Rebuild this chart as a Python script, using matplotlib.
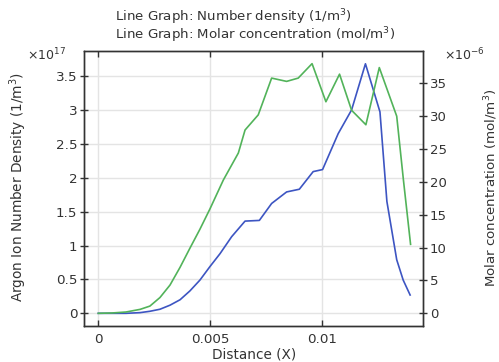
import numpy as np
import matplotlib
matplotlib.use("Agg")
import matplotlib.pyplot as plt

# blue line: argon ion number density (x1e17 1/m^3)
distance_density = [0, 0.00124, 0.00187, 0.00231, 0.00276, 0.00321, 0.00366, 0.00410, 0.00455,
                    0.00500, 0.00545, 0.00597, 0.00657, 0.00721, 0.00776, 0.00843, 0.00900,
                    0.00962, 0.01004, 0.01074, 0.01134, 0.01196, 0.01261, 0.01292, 0.01336,
                    0.01365, 0.01396]
number_density = [0, 0, 0.01, 0.03, 0.06, 0.12, 0.2, 0.33, 0.49, 0.69, 0.88, 1.13, 1.36, 1.37,
                  1.62, 1.79, 1.83, 2.09, 2.12, 2.65, 3.0, 3.68, 2.97, 1.65, 0.79, 0.49, 0.27]

# green line: molar concentration (x1e-6 mol/m^3)
distance_molar = [0, 0.00061, 0.00124, 0.00187, 0.00231, 0.00276, 0.00321, 0.00366, 0.00410,
                  0.00455, 0.00500, 0.00560, 0.00627, 0.00657, 0.00716, 0.00776, 0.00843,
                  0.00895, 0.00957, 0.01019, 0.01080, 0.01134, 0.01198, 0.01258, 0.01336,
                  0.01366, 0.01398]
molar_conc = [0, 0.05, 0.2, 0.6, 1.1, 2.4, 4.3, 7.0, 9.9, 12.8, 15.9, 20.3, 24.4, 27.9, 30.2,
              35.8, 35.3, 35.8, 38.0, 32.2, 36.4, 30.9, 28.7, 37.4, 30.0, 20.3, 10.5]

x_ticks = [0, 0.005, 0.01]
x_tick_labels = ["0", "0.005", "0.01"]
left_ticks = [0, 0.5, 1, 1.5, 2, 2.5, 3, 3.5]
left_tick_labels = ["0", "0.5", "1", "1.5", "2", "2.5", "3", "3.5"]
right_ticks = [0, 5, 10, 15, 20, 25, 30, 35]

txt = "#333333"
W, H = 499, 362
fig = plt.figure(figsize=(W / 100, H / 100), dpi=100)
ax = fig.add_axes([84 / W, 1 - 326 / H, 339.3 / W, 275.3 / H])
ax2 = ax.twinx()

ax.plot(distance_density, number_density, color="#3d55c2", lw=1.2)
ax2.plot(distance_molar, molar_conc, color="#52b35a", lw=1.2)

ax.set_xlim(-0.00064, 0.01455)
ax.set_ylim(-0.187, 3.873)
ax2.set_ylim(-1.93, 39.97)

ax.set_xticks(x_ticks)
ax.set_xticklabels(x_tick_labels)
ax.set_yticks(left_ticks)
ax.set_yticklabels(left_tick_labels)
ax2.set_yticks(right_ticks)

ax.grid(True, color="#e4e4e4", lw=1)
ax.set_axisbelow(True)
ax.tick_params(axis="x", direction="in", length=4.5, width=1, top=True, pad=5,
               labelsize=9.7, labelcolor=txt, color=txt)
ax.tick_params(axis="y", direction="inout", length=5.5, width=1, pad=2,
               labelsize=9.7, labelcolor=txt, color=txt)
ax2.tick_params(axis="y", direction="inout", length=5.5, width=1, pad=2,
                labelsize=9.5, labelcolor=txt, color=txt)
for a in (ax, ax2):
    for s in a.spines.values():
        s.set_color(txt)
        s.set_linewidth(1)

ax.set_xlabel("Distance (X)", fontsize=9.8, color=txt, va="center")
ax.xaxis.set_label_coords(0.5, (326 - 354) / 275.3)
ax.set_ylabel("Argon Ion Number Density (1/m$^3$)", fontsize=9.8, color=txt, va="center")
ax.yaxis.set_label_coords((18 - 84) / 339.3, (326 - 187) / 275.3)
ax2.set_ylabel("Molar concentration (mol/m$^3$)", fontsize=9.6, color=txt, va="center")
ax2.yaxis.set_label_coords((491 - 84) / 339.3, (326 - 188) / 275.3)

fig.text(115 / W, 1 - 21 / H, "Line Graph: Number density (1/m$^3$)", fontsize=9.6, color=txt)
fig.text(115 / W, 1 - 39.5 / H, "Line Graph: Molar concentration (mol/m$^3$)", fontsize=9.6, color=txt)
fig.text(27 / W, 1 - 60 / H, "×10$^{17}$", fontsize=9, color=txt)
fig.text(444 / W, 1 - 60 / H, "×10$^{-6}$", fontsize=9, color=txt)

fig.savefig("out.png", dpi=100)
